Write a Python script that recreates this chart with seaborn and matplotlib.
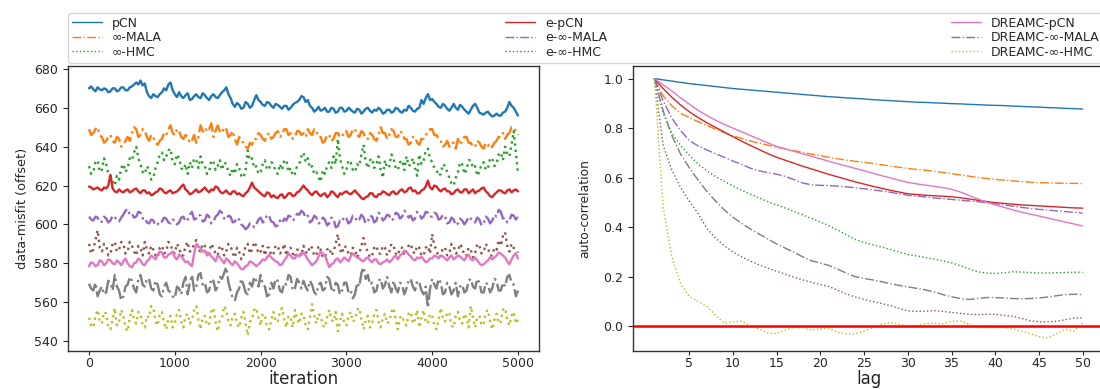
import numpy as np
import matplotlib
matplotlib.use("Agg")
import matplotlib.pyplot as plt
import seaborn as sns

# ---------------- data ----------------
method_names = ["pCN", "∞-MALA", "∞-HMC",
                "e-pCN", "e-∞-MALA", "e-∞-HMC",
                "DREAMC-pCN", "DREAMC-∞-MALA", "DREAMC-∞-HMC"]

iter_start, iter_end = 0, 5000   # traces are sampled evenly over this range

trace_pcn = [670, 671, 669.5, 668.5, 670.5, 669.5, 669, 670, 669.5, 668, 668.5, 670, 670, 668.5, 669, 670.5, 670.5, 669, 669, 670.5,
             671, 672, 673, 672, 674, 671.5, 672.5, 668, 666, 665, 667, 666, 665.5, 667, 668, 670, 669, 672, 673, 669,
             667, 665.5, 668, 666, 665, 666.5, 667.5, 664, 664.5, 666, 667, 665.5, 665, 667.5, 666.5, 665, 664, 666, 667, 665.5,
             665, 666.5, 668, 669, 670.5, 667, 665, 662, 660.5, 662.5, 661.5, 659.5, 660, 663, 662, 660, 661, 664, 666.5, 664,
             663, 661.5, 661, 663, 662.5, 661, 660, 662, 661.5, 660.5, 659.5, 661, 661, 659, 660, 661.5, 662.5, 663, 664, 666,
             665.5, 663, 664, 661, 660, 658, 659, 660.5, 658.5, 659, 660, 658, 658, 660, 659.5, 657.5, 658, 660, 660, 658,
             658.5, 660, 659, 658, 657.5, 659.5, 659, 657, 658, 659.5, 660, 658.5, 657.5, 659, 658.5, 660, 659, 657, 657.5, 659,
             659, 657.5, 658, 660, 659.5, 658, 657.5, 659, 658.5, 661, 660, 658.5, 658, 659.5, 660, 664, 662, 665, 667, 664,
             664.5, 663, 662, 660.5, 660, 662, 661, 659.5, 658.5, 660, 662, 660, 659, 661.5, 660.5, 659, 658, 657, 659, 661,
             662, 660, 657.5, 657, 656.5, 657.5, 658, 656.5, 655.5, 656, 657, 656, 656, 657.5, 658, 660, 663, 661, 660, 658,
             656]
trace_mala = [649, 646, 647, 649, 650, 646, 645, 642, 643, 645, 646, 643, 642, 645, 644, 640, 641, 643, 645, 643,
              647, 650, 649, 645, 646, 649, 648, 645, 643, 646, 645, 642, 641, 643, 644, 647, 646, 649, 651, 647,
              646, 649, 648, 645, 644, 646, 645, 642, 643, 646, 642, 645, 651, 648, 647, 650, 649, 652, 645, 648,
              651, 648, 647, 650, 649, 645, 646, 648, 644, 641, 645, 643, 642, 640, 639, 642, 641, 644, 644, 647,
              646, 644, 643, 646, 647, 644, 645, 647, 648, 645, 646, 649, 649, 646, 647, 644, 645, 648, 648, 646,
              647, 645, 649, 647, 646, 649, 648, 645, 645, 642, 643, 646, 646, 643, 644, 647, 647, 645, 645, 648,
              648, 645, 646, 649, 649, 646, 645, 648, 647, 644, 644, 647, 646, 644, 643, 646, 650, 647, 647, 644,
              646, 649, 648, 645, 645, 648, 647, 644, 644, 641, 642, 645, 645, 642, 641, 644, 644, 646, 647, 649,
              649, 646, 646, 644, 643, 640, 641, 643, 640, 642, 642, 639, 644, 641, 643, 645, 645, 642, 642, 640,
              640, 643, 642, 640, 639, 642, 641, 639, 640, 642, 643, 645, 645, 647, 644, 646, 647, 650, 650, 648,
              646]
trace_hmc = [630, 626, 627, 632, 633, 627, 628, 634, 631, 626, 624, 622, 620, 625, 623, 629, 631, 627, 629, 634,
             633, 637, 640, 634, 631, 627, 626, 630, 628, 623, 624, 629, 632, 636, 637, 633, 635, 638, 639, 632,
             631, 636, 634, 629, 628, 631, 626, 632, 629, 634, 633, 629, 635, 631, 630, 626, 627, 633, 632, 628,
             630, 633, 628, 632, 631, 627, 625, 629, 626, 631, 629, 625, 624, 628, 638, 633, 634, 629, 630, 626,
             627, 631, 633, 628, 629, 632, 631, 627, 626, 631, 628, 633, 633, 627, 629, 625, 626, 630, 631, 635,
             637, 632, 634, 629, 630, 626, 627, 624, 622, 628, 626, 630, 632, 629, 635, 631, 644, 634, 630, 626,
             628, 633, 632, 628, 627, 631, 630, 636, 641, 632, 629, 633, 634, 629, 631, 635, 628, 624, 633, 629,
             630, 636, 634, 629, 628, 632, 633, 628, 635, 630, 631, 634, 629, 625, 636, 631, 633, 638, 639, 634,
             632, 629, 628, 625, 626, 631, 630, 627, 624, 621, 620, 624, 627, 632, 631, 626, 628, 633, 633, 629,
             630, 625, 627, 631, 632, 628, 629, 634, 634, 630, 631, 636, 637, 633, 640, 636, 635, 641, 648, 637,
             626]
trace_epcn = [619.5, 619, 618, 618.5, 619, 618, 617.5, 619, 618.5, 620, 625.5, 618.5, 617, 616.5, 618, 617, 616.5, 617.5, 618, 616.5,
              617, 618, 618.5, 617, 616, 617.5, 617.5, 616, 616.5, 615, 615.5, 616.5, 617, 618.5, 618, 616.5, 616, 617, 617.5, 616,
              616.5, 617, 618, 619.5, 620.5, 618, 617, 615.5, 616, 617, 618, 616.5, 617, 618, 619, 617.5, 616.5, 618, 617.5, 619.5,
              619, 617, 616, 616.5, 617.5, 616, 615.5, 617, 617, 615.5, 616, 615, 614.5, 616, 617, 619, 621.5, 619, 618, 617,
              616, 615, 614.5, 616.5, 616, 614, 615, 614, 613.5, 615, 615.5, 613.5, 614.5, 616, 616, 614.5, 615, 616.5, 617, 618.5,
              620, 618.5, 617.5, 616, 615, 616.5, 617, 615.5, 614.5, 615.5, 616, 614, 615, 617, 616.5, 615, 614, 616, 615.5, 616.5,
              617, 616, 615.5, 616.5, 617.5, 616, 615, 613.5, 613, 614, 614.5, 616, 616, 614.5, 614, 615.5, 615.5, 617, 616.5, 615.5,
              615, 616.5, 617, 615.5, 616, 617.5, 618, 616.5, 617, 618.5, 619, 617, 617.5, 616, 616, 617.5, 618, 619.5, 622.5, 619,
              618, 620, 619.5, 618, 617, 618, 618.5, 617, 617, 615.5, 616, 617.5, 618, 616.5, 616.5, 618, 618, 616, 617, 618,
              616, 617, 617.5, 618.5, 619, 617, 616, 614.5, 614, 615.5, 616.5, 617.5, 617.5, 616.5, 616, 617.5, 618, 616.5, 617.5, 618,
              617]
trace_emala = [604, 602.5, 602, 604, 603.5, 601, 601.5, 604, 603, 601, 602, 604.5, 604, 602, 601.5, 603.5, 605, 607, 608, 605,
               605.5, 603.5, 604, 606.5, 606, 603, 603.5, 601, 600.5, 602.5, 602, 599.5, 600, 602, 601.5, 603.5, 603, 601, 600.5, 602.5,
               602, 600, 601, 603.5, 604, 601.5, 602.5, 605, 606.5, 602.5, 603, 605, 604.5, 601.5, 602, 605, 604, 600.5, 601.5, 604,
               605, 607, 606, 603, 602.5, 604.5, 604, 601, 601.5, 603.5, 602.5, 600, 599, 597.5, 598.5, 600.5, 600.5, 598.5, 600, 602.5,
               603.5, 601, 602, 605, 604, 601.5, 601, 599, 599.5, 602, 600.5, 603, 602, 604.5, 604, 602, 603, 605.5, 605, 607,
               606, 603.5, 604.5, 601, 602, 604.5, 603.5, 600.5, 601, 603.5, 602.5, 599.5, 600.5, 603.5, 603, 598.5, 599, 602, 601.5, 604,
               603, 600.5, 601.5, 604.5, 604, 601.5, 602.5, 605, 603.5, 600.5, 601.5, 604.5, 604, 601, 602, 606, 605, 602, 603, 605,
               604.5, 602, 603, 606, 605.5, 603, 604, 607, 606, 603.5, 604.5, 602, 603, 606.5, 605.5, 603, 604, 606.5, 606, 604,
               604, 606, 605.5, 602.5, 603, 605, 604, 600.5, 601, 603.5, 602.5, 599.5, 600.5, 603, 602, 600, 601.5, 604, 603, 601.5,
               601, 603.5, 602.5, 599.5, 600.5, 604, 603, 600.5, 602, 605, 604, 607.5, 606.5, 603, 603.5, 601, 602, 605, 604.5, 602.5,
               604]
trace_ehmc = [590, 585, 587, 592, 597, 588, 586, 590, 589, 584, 585, 590, 591, 586, 587, 591, 590, 585, 586, 591,
              589, 586, 584, 589, 588, 584, 591, 587, 585, 589, 587, 584, 583, 588, 589, 585, 586, 591, 590, 586,
              585, 590, 588, 584, 584, 589, 591, 586, 587, 590, 592, 587, 586, 590, 589, 584, 585, 590, 588, 585,
              584, 589, 588, 584, 586, 590, 589, 585, 583, 588, 586, 582, 584, 589, 590, 585, 587, 591, 589, 585,
              586, 589, 584, 588, 588, 584, 585, 589, 589, 585, 586, 590, 584, 587, 588, 585, 583, 587, 587, 584,
              589, 586, 585, 589, 588, 584, 584, 589, 587, 583, 583, 587, 588, 584, 586, 590, 595, 587, 585, 589,
              588, 585, 584, 588, 587, 583, 585, 589, 593, 588, 586, 583, 584, 588, 589, 585, 585, 589, 588, 584,
              586, 590, 589, 585, 584, 588, 588, 584, 586, 589, 590, 586, 585, 589, 588, 584, 584, 588, 589, 585,
              595, 589, 587, 583, 584, 588, 588, 584, 585, 590, 589, 585, 586, 590, 588, 584, 584, 588, 587, 583,
              585, 590, 589, 585, 586, 590, 588, 584, 584, 588, 587, 592, 589, 594, 596, 589, 586, 590, 588, 584,
              586]
trace_dpcn = [578.5, 580.5, 580, 578.5, 579, 581.5, 581, 579, 580, 582, 581.5, 580, 579.5, 581.5, 580.5, 579, 581, 582.5, 580, 578.5,
              578, 580, 580.5, 582.5, 581.5, 579.5, 579, 581, 582, 584, 583, 582, 584.5, 586, 585.5, 583, 583, 584.5, 585, 586,
              583, 582, 584.5, 583.5, 582, 580.5, 581, 579.5, 578.5, 585, 590, 588.5, 588, 586, 586.5, 584, 585, 583.5, 582.5, 581,
              584, 583, 581.5, 580, 582.5, 581.5, 580, 579, 581, 580, 578.5, 577, 577, 578.5, 579, 581, 580.5, 579.5, 578.5, 579.5,
              580.5, 582, 581.5, 583, 584.5, 583, 582, 581, 580.5, 579, 579.5, 581.5, 583, 585, 584, 582.5, 582.5, 584.5, 583.5, 584.5,
              585.5, 584, 582, 580.5, 579, 580, 581, 583.5, 586, 585, 584, 581, 578, 579.5, 580, 582, 582.5, 580.5, 581.5, 583,
              582, 581, 583.5, 585, 584, 583, 582.5, 581.5, 581, 582.5, 583, 581.5, 580.5, 582, 582, 580, 579.5, 580.5, 581, 582,
              580.5, 581.5, 583, 584, 582, 584, 585, 586.5, 586, 584.5, 583.5, 582, 581.5, 583, 582.5, 583.5, 582, 580.5, 581, 582.5,
              582.5, 584, 583.5, 582.5, 584, 583.5, 582.5, 581.5, 583, 584, 582, 583, 584, 583.5, 582.5, 581.5, 583.5, 584.5, 582, 581.5,
              583, 581.5, 580, 579, 579.5, 580.5, 581.5, 583, 582, 583, 584, 585.5, 585, 584, 583, 581, 579.5, 582, 584, 585,
              582.5]
trace_dmala = [569.5, 567, 566, 570, 563, 566, 568, 564, 565, 571, 570, 566, 574, 568, 566, 561, 563, 568, 569, 573,
               571, 567, 565, 572, 574, 569, 568, 572, 572, 567, 566, 571, 569, 564, 563, 568, 570, 566, 565, 563,
               562, 568, 567, 564, 570, 573, 564, 570, 574, 566, 568, 574, 575, 569, 570, 565, 566, 572, 571, 566,
               568, 573, 572, 575, 578, 570, 566, 562, 561, 565, 567, 572, 569, 565, 564, 570, 568, 573, 571, 568,
               574, 569, 568, 563, 564, 570, 567, 572, 571, 566, 565, 570, 569, 574, 573, 566, 567, 572, 570, 567,
               571, 568, 566, 571, 569, 565, 564, 569, 570, 566, 567, 573, 572, 567, 565, 570, 569, 564, 566, 570,
               570, 565, 566, 562, 564, 570, 568, 575, 578, 572, 574, 569, 570, 565, 566, 571, 572, 567, 569, 573,
               568, 565, 571, 567, 565, 570, 569, 564, 567, 571, 572, 568, 566, 571, 570, 566, 564, 568, 557, 567,
               572, 569, 567, 572, 570, 564, 565, 570, 568, 564, 566, 570, 563, 568, 569, 565, 566, 571, 572, 568,
               567, 572, 570, 565, 565, 570, 569, 565, 567, 572, 571, 566, 566, 570, 568, 573, 574, 570, 569, 563,
               566]
trace_dhmc = [552, 548, 547, 553, 556, 550, 549, 555, 554, 547, 546, 551, 557, 548, 550, 556, 553, 547, 545, 552,
              556, 551, 549, 555, 554, 548, 547, 553, 552, 558, 557, 550, 548, 554, 555, 549, 546, 552, 553, 547,
              549, 554, 556, 550, 547, 553, 554, 549, 551, 556, 558, 551, 546, 552, 553, 548, 549, 555, 557, 550,
              545, 551, 552, 558, 556, 550, 548, 553, 554, 549, 547, 552, 555, 549, 543, 550, 551, 556, 557, 552,
              548, 554, 553, 547, 546, 551, 555, 550, 550, 555, 557, 551, 547, 553, 552, 547, 556, 551, 549, 554,
              554, 548, 546, 552, 559, 553, 549, 554, 553, 548, 547, 552, 556, 551, 550, 555, 545, 550, 554, 549,
              548, 553, 555, 550, 551, 556, 557, 551, 546, 551, 553, 547, 549, 554, 556, 550, 547, 552, 554, 549,
              550, 555, 557, 551, 546, 552, 553, 549, 548, 554, 555, 549, 551, 556, 547, 552, 556, 550, 549, 554,
              553, 548, 546, 551, 557, 552, 550, 555, 554, 548, 547, 553, 555, 550, 549, 554, 552, 547, 558, 552,
              547, 552, 553, 548, 549, 555, 556, 550, 546, 551, 554, 549, 550, 556, 557, 551, 548, 553, 555, 549,
              551]

lags = list(range(1, 51))

acf_pcn = [1.000, 0.995, 0.990, 0.985, 0.980, 0.976, 0.972, 0.968, 0.964, 0.960,
           0.957, 0.954, 0.951, 0.948, 0.945, 0.942, 0.939, 0.936, 0.933, 0.930,
           0.927, 0.925, 0.922, 0.920, 0.918, 0.915, 0.913, 0.911, 0.909, 0.907,
           0.905, 0.904, 0.902, 0.901, 0.899, 0.898, 0.896, 0.895, 0.893, 0.892,
           0.891, 0.889, 0.888, 0.886, 0.885, 0.883, 0.882, 0.880, 0.879, 0.877]
acf_mala = [1.000, 0.930, 0.890, 0.860, 0.843, 0.826, 0.811, 0.796, 0.782, 0.769,
            0.758, 0.748, 0.739, 0.731, 0.723, 0.716, 0.709, 0.702, 0.695, 0.689,
            0.682, 0.676, 0.671, 0.666, 0.662, 0.657, 0.652, 0.647, 0.642, 0.637,
            0.633, 0.630, 0.626, 0.621, 0.616, 0.611, 0.606, 0.601, 0.597, 0.593,
            0.590, 0.587, 0.584, 0.582, 0.580, 0.579, 0.578, 0.577, 0.577, 0.576]
acf_hmc = [1.000, 0.860, 0.780, 0.730, 0.690, 0.655, 0.628, 0.605, 0.585, 0.566,
           0.549, 0.533, 0.518, 0.503, 0.490, 0.477, 0.463, 0.449, 0.435, 0.421,
           0.406, 0.388, 0.369, 0.350, 0.338, 0.329, 0.320, 0.310, 0.300, 0.290,
           0.284, 0.278, 0.271, 0.264, 0.256, 0.245, 0.232, 0.220, 0.215, 0.213,
           0.216, 0.220, 0.219, 0.217, 0.215, 0.215, 0.216, 0.217, 0.218, 0.218]
acf_epcn = [1.000, 0.960, 0.925, 0.893, 0.866, 0.843, 0.822, 0.803, 0.784, 0.765,
            0.747, 0.730, 0.713, 0.697, 0.682, 0.670, 0.658, 0.646, 0.635, 0.624,
            0.613, 0.603, 0.593, 0.583, 0.574, 0.565, 0.557, 0.549, 0.542, 0.535,
            0.532, 0.529, 0.527, 0.525, 0.523, 0.519, 0.514, 0.509, 0.504, 0.499,
            0.496, 0.493, 0.490, 0.488, 0.486, 0.484, 0.482, 0.480, 0.478, 0.477]
acf_emala = [1.000, 0.910, 0.840, 0.790, 0.750, 0.728, 0.712, 0.697, 0.682, 0.667,
             0.653, 0.638, 0.628, 0.620, 0.614, 0.605, 0.592, 0.578, 0.571, 0.569,
             0.568, 0.566, 0.563, 0.559, 0.555, 0.551, 0.546, 0.541, 0.535, 0.529,
             0.526, 0.522, 0.518, 0.515, 0.512, 0.509, 0.506, 0.503, 0.499, 0.495,
             0.490, 0.485, 0.480, 0.476, 0.472, 0.469, 0.466, 0.463, 0.460, 0.457]
acf_ehmc = [1.000, 0.730, 0.630, 0.560, 0.505, 0.455, 0.395, 0.355, 0.325, 0.300,
            0.280, 0.263, 0.248, 0.234, 0.222, 0.210, 0.198, 0.187, 0.177, 0.168,
            0.160, 0.145, 0.130, 0.118, 0.108, 0.100, 0.092, 0.083, 0.072, 0.062,
            0.060, 0.061, 0.063, 0.060, 0.056, 0.052, 0.048, 0.047, 0.048, 0.048,
            0.044, 0.040, 0.032, 0.022, 0.018, 0.018, 0.020, 0.026, 0.033, 0.034]
acf_dpcn = [1.000, 0.975, 0.950, 0.922, 0.897, 0.872, 0.851, 0.832, 0.815, 0.800,
            0.785, 0.770, 0.755, 0.740, 0.726, 0.716, 0.706, 0.696, 0.686, 0.676,
            0.666, 0.656, 0.647, 0.637, 0.628, 0.618, 0.608, 0.599, 0.590, 0.581,
            0.575, 0.570, 0.565, 0.560, 0.553, 0.542, 0.528, 0.514, 0.501, 0.490,
            0.480, 0.470, 0.461, 0.453, 0.445, 0.437, 0.429, 0.421, 0.413, 0.405]
acf_dmala = [1.000, 0.870, 0.770, 0.695, 0.640, 0.590, 0.545, 0.505, 0.470, 0.440,
             0.415, 0.392, 0.372, 0.352, 0.332, 0.315, 0.298, 0.280, 0.264, 0.255,
             0.245, 0.230, 0.214, 0.200, 0.193, 0.187, 0.180, 0.172, 0.165, 0.159,
             0.153, 0.147, 0.139, 0.128, 0.119, 0.112, 0.108, 0.112, 0.116, 0.116,
             0.114, 0.112, 0.111, 0.112, 0.114, 0.118, 0.123, 0.128, 0.129, 0.128]
acf_dhmc = [1.000, 0.480, 0.280, 0.170, 0.120, 0.100, 0.080, 0.045, 0.012, 0.018,
            0.020, 0.000, -0.012, -0.027, -0.030, -0.015, -0.004, -0.006, -0.016, -0.010,
            -0.009, -0.025, -0.031, -0.030, -0.020, -0.005, 0.008, 0.015, 0.008, 0.000,
            0.003, 0.010, 0.012, 0.010, 0.020, 0.021, 0.008, -0.005, -0.006, -0.005,
            -0.005, -0.010, -0.020, -0.030, -0.042, -0.047, -0.032, -0.012, -0.020, 0.015]

traces = [trace_pcn, trace_mala, trace_hmc, trace_epcn, trace_emala,
          trace_ehmc, trace_dpcn, trace_dmala, trace_dhmc]
acfs = [acf_pcn, acf_mala, acf_hmc, acf_epcn, acf_emala,
        acf_ehmc, acf_dpcn, acf_dmala, acf_dhmc]

left_xticks = [0, 1000, 2000, 3000, 4000, 5000]
left_yticks = [540, 560, 580, 600, 620, 640, 660, 680]
right_xticks = [5, 10, 15, 20, 25, 30, 35, 40, 45, 50]
right_yticks = [0.0, 0.2, 0.4, 0.6, 0.8, 1.0]

# ---------------- styling ----------------
sns.set_style("ticks")
plt.rcParams["font.family"] = ["DejaVu Sans"]
colors = sns.color_palette("tab10", 9)
styles = ["-", "-.", ":"] * 3

W, H = 1100, 389
fig = plt.figure(figsize=(W / 100, H / 100), dpi=100)


def fx(px):
    return px / W


def fy(py):
    return 1 - py / H


AX_TOP, AX_BOT = 66, 359
ax1 = fig.add_axes([fx(68), fy(AX_BOT), fx(539) - fx(68), fy(AX_TOP) - fy(AX_BOT)])
ax2 = fig.add_axes([fx(633), fy(AX_BOT), fx(1104) - fx(633), fy(AX_TOP) - fy(AX_BOT)])

for name, tr, ac, c, ls in zip(method_names, traces, acfs, colors, styles):
    its = np.linspace(iter_start, iter_end, len(tr))
    sns.lineplot(x=its, y=tr, ax=ax1, color=c, linestyle=ls,
                 linewidth=1.7, label=name, estimator=None)
    sns.lineplot(x=lags, y=ac, ax=ax2, color=c, linestyle=ls,
                 linewidth=1.0, estimator=None)

ax2.axhline(0.0, color="red", linewidth=1.8)

handles, labels = ax1.get_legend_handles_labels()
for a in (ax1, ax2):
    if a.get_legend() is not None:
        a.get_legend().remove()

ax1.set_xlim(-245, 5245)
ax1.set_ylim(535, 681.5)
ax1.set_xticks(left_xticks)
ax1.set_yticks(left_yticks)
ax2.set_xlim(-1.45, 52.45)
ax2.set_ylim(-0.099, 1.051)
ax2.set_xticks(right_xticks)
ax2.set_yticks(right_yticks)

ax1.set_xlabel("iteration", fontsize=12, labelpad=0)
ax2.set_xlabel("lag", fontsize=12, labelpad=0)
yl1 = ax1.set_ylabel("data-misfit (offset)", fontsize=12)
yl2 = ax2.set_ylabel("auto-correlation", fontsize=12, labelpad=9)

for a in (ax1, ax2):
    a.tick_params(axis="y", labelsize=9, length=3.5, width=0.8)
    a.tick_params(axis="x", labelsize=9, length=3, width=0.8, pad=1.5)
    for s in a.spines.values():
        s.set_linewidth(1.0)
        s.set_color("#333333")

leg = fig.legend(handles, labels, loc="upper left", ncol=3, mode="expand",
                 bbox_to_anchor=(fx(68), 0.0, fx(1103) - fx(68), fy(13)),
                 borderaxespad=0, fontsize=9, handlelength=2.4,
                 labelspacing=0.12, borderpad=0.3, frameon=True)
for h in leg.legend_handles:
    h.set_linewidth(1.0)

# fit y-label lengths to the reference's lengths (pixels)
fig.canvas.draw()
renderer = fig.canvas.get_renderer()
for t, target in ((yl1, 120), (yl2, 98)):
    cur = t.get_window_extent(renderer=renderer).height
    if cur > 0:
        t.set_fontsize(t.get_fontsize() * target / cur)

# keep the x labels inside the figure: raise the axes bottoms if needed
fig.canvas.draw()
lowest = min(ax1.xaxis.label.get_window_extent(renderer=renderer).y0,
             ax2.xaxis.label.get_window_extent(renderer=renderer).y0)
need = 1.0 - lowest
if need > 0:
    for a in (ax1, ax2):
        p = a.get_position()
        a.set_position([p.x0, p.y0 + need / H, p.width, p.height - need / H])

fig.savefig("out.png", dpi=100)
